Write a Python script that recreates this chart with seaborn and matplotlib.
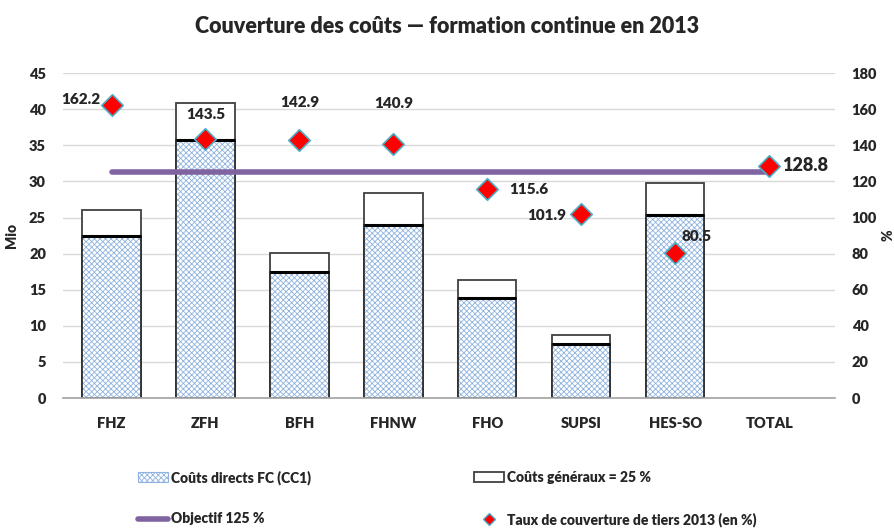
import numpy as np
import seaborn as sns
import matplotlib.pyplot as plt
from matplotlib.patches import Patch
from matplotlib.lines import Line2D

categories = ['FHZ', 'ZFH', 'BFH', 'FHNW', 'FHO', 'SUPSI', 'HES-SO', 'TOTAL']
direct_costs = [22.4, 35.7, 17.4, 24.0, 13.8, 7.5, 25.3, np.nan]
overhead_costs = [3.6, 5.2, 2.7, 4.4, 2.5, 1.2, 4.5, np.nan]
coverage = [162.2, 143.5, 142.9, 140.9, 115.6, 101.9, 80.5, 128.8]
target = 125

sns.set_theme(style='white')
plt.rcParams['font.family'] = ['Lato', 'DejaVu Sans']
plt.rcParams['font.weight'] = 'heavy'
plt.rcParams['axes.labelweight'] = 'heavy'
plt.rcParams['figure.titleweight'] = 'heavy'
plt.rcParams['hatch.linewidth'] = 0.6

totals = [d + o for d, o in zip(direct_costs, overhead_costs)]
x = np.arange(len(categories))

fig = plt.figure(figsize=(8.95, 5.3), dpi=100)
ax = fig.add_axes([0.070, 0.249, 0.863, 0.613])

ax.yaxis.grid(True, color='#d9d9d9', lw=1)
ax.set_axisbelow(True)

# overhead: white box up to the total
sns.barplot(x=categories, y=totals, order=categories, color='white',
            edgecolor='#404040', linewidth=1.3, width=0.62, saturation=1, ax=ax)
# direct costs: blue crosshatch
sns.barplot(x=categories, y=direct_costs, order=categories, color='white',
            edgecolor='#8fb3e0', hatch='xxxxxx', linewidth=0, width=0.62,
            saturation=1, ax=ax)
sns.barplot(x=categories, y=direct_costs, order=categories, fill=False,
            edgecolor='#303030', linewidth=1.3, width=0.62, ax=ax)
ax.hlines(direct_costs, x - 0.31, x + 0.31, color='black', lw=2.2, zorder=5)

ax.set_ylim(0, 45)
ax.set_yticks(range(0, 46, 5))
ax.set_xlim(-0.52, 7.7)
ax.set_xlabel('')
ax.set_ylabel('Mio', fontsize=10, labelpad=8)
ax.tick_params(axis='both', length=0, labelsize=10.5, pad=12)
ax.tick_params(axis='x', pad=14)
for s in ['top', 'right', 'left']:
    ax.spines[s].set_visible(False)
ax.spines['bottom'].set_color('#a6a6a6')

ax2 = ax.twinx()
sns.lineplot(x=[x[0], x[-1]], y=[target, target], color='#8064a2', lw=4,
             ax=ax2, zorder=3)
sns.scatterplot(x=x, y=coverage, marker='D', s=120, color='#ff0000',
                edgecolor='#4bacc6', linewidth=1.2, ax=ax2, zorder=6)
ax2.set_ylim(0, 180)
ax2.set_yticks(range(0, 181, 20))
ax2.set_xlim(-0.52, 7.7)
ax2.set_ylabel('%', fontsize=10, labelpad=3)
ax2.tick_params(axis='y', length=0, labelsize=10.5, pad=12)
for s in ['top', 'right', 'left', 'bottom']:
    ax2.spines[s].set_visible(False)

offsets = [(-22, 4, 'center'), (0, 18, 'center'), (0, 27, 'center'),
           (0, 29, 'center'), (30, 0, 'center'), (-25, -1, 'center'),
           (15, 12, 'center'), (9, 0, 'left')]
for i, (v, (dx, dy, ha)) in enumerate(zip(coverage, offsets)):
    size = 13 if categories[i] == 'TOTAL' else 11
    ax2.annotate(f'{v:.1f}', (x[i], v), xytext=(dx, dy), textcoords='offset points',
                 ha=ha, va='center', fontsize=size)

fig.suptitle('Couverture des coûts — formation continue en 2013', x=0.5, y=0.97,
             fontsize=15.5)

handles = [
    Patch(facecolor='white', edgecolor='#8fb3e0', hatch='xxxxxx', lw=0.8),
    Line2D([], [], color='#8064a2', lw=4),
    Patch(facecolor='white', edgecolor='#404040', lw=1.3),
    Line2D([], [], marker='D', ls='', color='#ff0000', markeredgecolor='#4bacc6',
           markersize=6),
]
labels = ['Coûts directs FC (CC1)', 'Objectif 125 %',
          'Coûts généraux = 25 %', 'Taux de couverture de tiers 2013 (en %)']
fig.legend(handles, labels, loc='lower left', bbox_to_anchor=(0.14, -0.017),
           ncol=2, frameon=False, fontsize=10, labelspacing=2.0,
           columnspacing=11.7, handlelength=2.2, handletextpad=0.2)

fig.savefig('out.png', dpi=100)
